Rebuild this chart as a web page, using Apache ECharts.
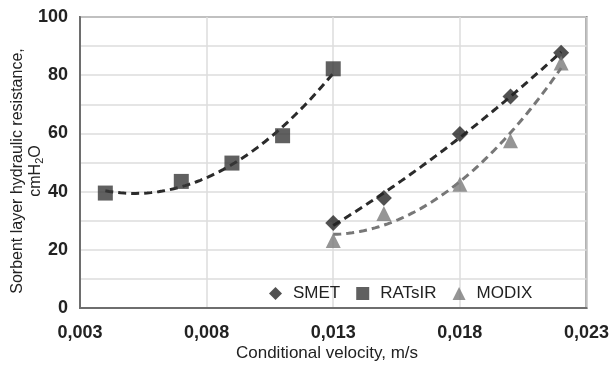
<!DOCTYPE html>
<html>
<head>
<meta charset="utf-8">
<script src="https://cdn.jsdelivr.net/npm/echarts@6/dist/echarts.min.js"></script>
<style>html,body{margin:0;padding:0;background:#fff;}#c{width:612px;height:365px;}</style>
</head>
<body>
<div id="c"></div>
<script>
// ---- data ----
const xTickLabels = ['0,003', '0,008', '0,013', '0,018', '0,023'];
const yTickLabels = ['0', '20', '40', '60', '80', '100'];
const seriesNames = ['SMET', 'RATsIR', 'MODIX'];
const velSMET = [0.013, 0.015, 0.018, 0.020, 0.022];
const smet = [29.2, 37.8, 59.8, 72.7, 87.7];
const velRAT = [0.004, 0.007, 0.009, 0.011, 0.013];
const rat = [39.5, 43.5, 49.8, 59.2, 82.2];
const velMOD = [0.013, 0.015, 0.018, 0.020, 0.022];
const modix = [23.2, 32.5, 42.5, 57.5, 84.2];

// quadratic least-squares trend line (as in the original spreadsheet chart)
function polyFit2(xs, ys) {
  const m = xs.reduce((a, b) => a + b, 0) / xs.length;
  const u = xs.map(x => (x - m) * 1000);
  let S = [0, 0, 0, 0, 0], T = [0, 0, 0];
  u.forEach((ui, i) => {
    for (let k = 0; k < 5; k++) S[k] += Math.pow(ui, k);
    for (let k = 0; k < 3; k++) T[k] += ys[i] * Math.pow(ui, k);
  });
  const A = [[S[0], S[1], S[2], T[0]], [S[1], S[2], S[3], T[1]], [S[2], S[3], S[4], T[2]]];
  for (let i = 0; i < 3; i++) {
    for (let j = i + 1; j < 3; j++) {
      const f = A[j][i] / A[i][i];
      for (let k = i; k < 4; k++) A[j][k] -= f * A[i][k];
    }
  }
  const c = [0, 0, 0];
  for (let i = 2; i >= 0; i--) {
    let s = A[i][3];
    for (let k = i + 1; k < 3; k++) s -= A[i][k] * c[k];
    c[i] = s / A[i][i];
  }
  const lo = Math.min(...xs), hi = Math.max(...xs), n = 60, out = [];
  for (let i = 0; i <= n; i++) {
    const x = lo + (hi - lo) * i / n, v = (x - m) * 1000;
    out.push([x, c[0] + c[1] * v + c[2] * v * v]);
  }
  return out;
}
const pairs = (xs, ys) => xs.map((x, i) => [x, ys[i]]);

const FONT = "'Liberation Sans', Arial, sans-serif";
const TICKFONT = "'Liberation Sans Narrow', 'Arial Narrow', 'Liberation Sans', sans-serif";
const chart = echarts.init(document.getElementById('c'), null, {renderer: 'canvas'});
chart.setOption({
  animation: false,
  backgroundColor: '#fff',
  grid: {left: 80, right: 14, top: 17, bottom: 57, show: true, borderColor: '#6e6e6e', borderWidth: 2, containLabel: false},
  xAxis: {
    type: 'value', min: 0.003, max: 0.023, interval: 0.005,
    axisLine: {show: true, lineStyle: {color: '#6e6e6e', width: 2}},
    axisTick: {show: false},
    splitLine: {show: true, lineStyle: {color: '#dcdcdc', width: 1.5}},
    axisLabel: {
      margin: 16, color: '#222', fontFamily: TICKFONT, fontSize: 18, fontWeight: 'bold',
      formatter: v => xTickLabels[Math.round((v - 0.003) / 0.005)] || ''
    }
  },
  yAxis: {
    type: 'value', min: 0, max: 100, interval: 10,
    axisLine: {show: true, lineStyle: {color: '#6e6e6e', width: 2}},
    axisTick: {show: false},
    splitLine: {show: true, lineStyle: {color: '#dcdcdc', width: 1.5}},
    axisLabel: {
      margin: 12, color: '#222', fontFamily: TICKFONT, fontSize: 18, fontWeight: 'bold',
      formatter: v => (Math.round(v) % 20 === 0 ? yTickLabels[Math.round(v) / 20] : '')
    }
  },
  legend: {
    data: seriesNames, left: 264, top: 280, itemWidth: 13, itemHeight: 13, itemGap: 16,
    textStyle: {fontFamily: FONT, fontSize: 17, color: '#222', padding: [0, 0, 0, 6]}
  },
  graphic: [
    {type: 'text', x: 327, y: 353, style: {text: 'Conditional velocity, m/s', font: '17px ' + FONT, fill: '#222', align: 'center', verticalAlign: 'middle'}},
    {type: 'text', x: 27, y: 171, rotation: Math.PI / 2,
     style: {text: '{a|Sorbent layer hydraulic resistance,}\n{a|cmH}{s|2}{a|O}', align: 'center', verticalAlign: 'middle', fill: '#222',
       rich: {a: {fontFamily: FONT, fontSize: 16, lineHeight: 18, fill: '#222'}, s: {fontFamily: FONT, fontSize: 11, lineHeight: 18, fill: '#222', padding: [7, 0, 0, 0]}}}}
  ],
  series: [
    {name: 'SMETfit', type: 'line', data: polyFit2(velSMET, smet), showSymbol: false, silent: true, z: 2,
     lineStyle: {color: '#2b2b2b', width: 3, type: [8, 5]}},
    {name: 'RATfit', type: 'line', data: polyFit2(velRAT, rat), showSymbol: false, silent: true, z: 2,
     lineStyle: {color: '#2b2b2b', width: 3, type: [8, 5]}},
    {name: 'MODfit', type: 'line', data: polyFit2(velMOD, modix), showSymbol: false, silent: true, z: 2,
     lineStyle: {color: '#777', width: 3, type: [8, 5]}},
    {name: 'SMET', type: 'scatter', data: pairs(velSMET, smet), symbol: 'diamond', symbolSize: 16, z: 5,
     itemStyle: {color: '#262626'}},
    {name: 'RATsIR', type: 'scatter', data: pairs(velRAT, rat), symbol: 'rect', symbolSize: 15, z: 5,
     itemStyle: {color: '#383838'}},
    {name: 'MODIX', type: 'scatter', data: pairs(velMOD, modix), symbol: 'triangle', symbolSize: [15, 15], z: 5,
     itemStyle: {color: '#7a7a7a'}}
  ]
});
</script>
</body>
</html>
